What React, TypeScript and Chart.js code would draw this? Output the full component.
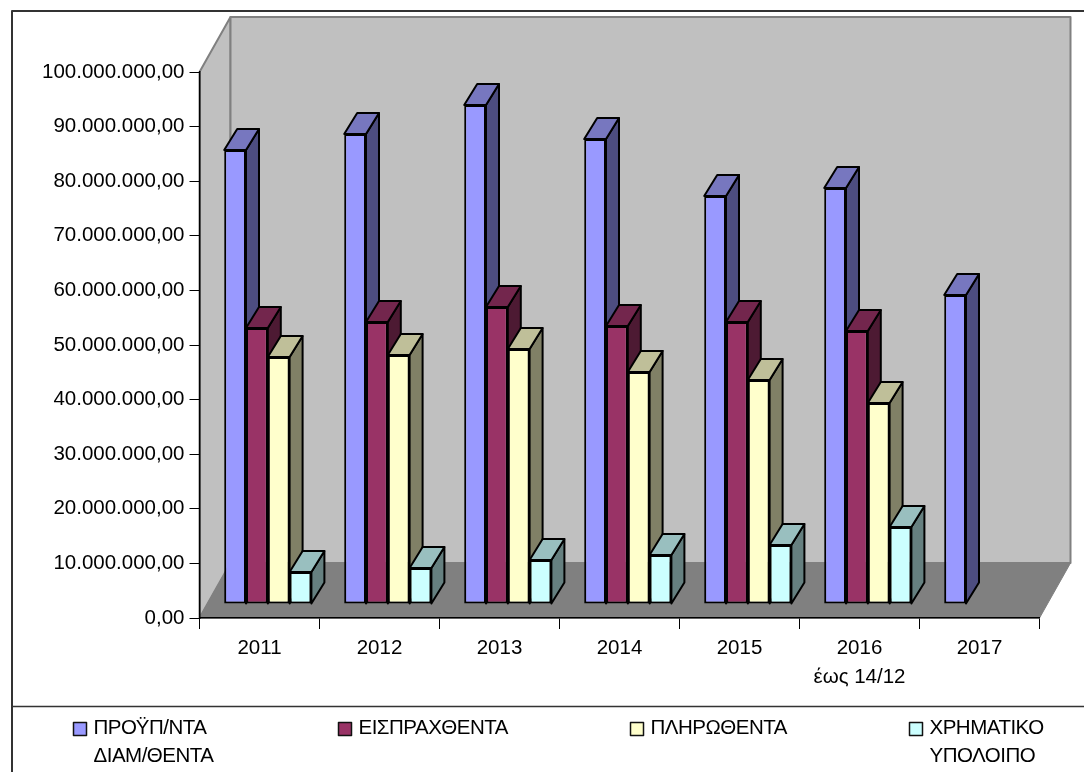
import React, { useEffect, useRef } from "react";
import { Chart, registerables } from "chart.js";

Chart.register(...registerables);

const categories = ["2011", "2012", "2013", "2014", "2015", ["2016", "έως 14/12"], "2017"];
const budgeted = [83150000, 86080000, 91390000, 85160000, 74730000, 76190000, 56590000];
const collected = [50550000, 51650000, 54400000, 50920000, 51650000, 50000000, null];
const paid = [45240000, 45600000, 46700000, 42500000, 41030000, 36800000, null];
const balance = [5860000, 6590000, 8060000, 8970000, 10800000, 14100000, null];
const seriesNames = [["ΠΡΟΫΠ/ΝΤΑ", "ΔΙΑΜ/ΘΕΝΤΑ"], ["ΕΙΣΠΡΑΧΘΕΝΤΑ"], ["ΠΛΗΡΩΘΕΝΤΑ"], ["ΧΡΗΜΑΤΙΚΟ", "ΥΠΟΛΟΙΠΟ"]];
const seriesColors = ["#9999FF", "#993366", "#FFFFCC", "#CCFFFF"];
const topColors = ["#7777BF", "#73264D", "#BFBF99", "#99BFBF"];
const sideColors = ["#4D4D80", "#4D1A33", "#808066", "#668080"];
const legendX = [73, 338, 630, 909];

const FONT = "Liberation Sans, Arial, sans-serif";
const wallDx = 31;
const wallDy = -55;
const barShiftX = 8.3;
const barShiftY = -14;
const barDx = 13;
const barDy = -21;

function poly(ctx: CanvasRenderingContext2D, pts: number[][], fill: string, stroke: string, lw: number) {
  ctx.beginPath();
  pts.forEach((p, i) => (i ? ctx.lineTo(p[0], p[1]) : ctx.moveTo(p[0], p[1])));
  ctx.closePath();
  ctx.fillStyle = fill;
  ctx.fill();
  ctx.strokeStyle = stroke;
  ctx.lineWidth = lw;
  ctx.lineJoin = "round";
  ctx.stroke();
}

const scenePlugin = {
  id: "scene3d",
  beforeDraw(chart: any) {
    const { ctx, chartArea: a, width, height } = chart;
    ctx.save();
    ctx.fillStyle = "#fff";
    ctx.fillRect(0, 0, width, height);
    const bx = a.left + wallDx;
    const brx = a.right + wallDx;
    const by = a.top + wallDy;
    const bb = a.bottom + wallDy;
    poly(ctx, [[a.left, a.bottom], [a.left, a.top], [bx, by], [bx, bb]], "#C0C0C0", "#808080", 2);
    poly(ctx, [[bx, by], [brx, by], [brx, bb], [bx, bb]], "#C0C0C0", "#808080", 2);
    poly(ctx, [[a.left, a.bottom], [a.right, a.bottom], [brx, bb], [bx, bb]], "#808080", "#808080", 1);

    // chart frame and legend separator
    ctx.strokeStyle = "#333";
    ctx.lineWidth = 2;
    ctx.beginPath();
    ctx.moveTo(12, height);
    ctx.lineTo(12, 11);
    ctx.lineTo(width, 11);
    ctx.stroke();
    ctx.lineWidth = 1.5;
    ctx.beginPath();
    ctx.moveTo(12, 706.5);
    ctx.lineTo(width, 706.5);
    ctx.stroke();

    // legend
    ctx.font = `20.5px ${FONT}`;
    ctx.textBaseline = "middle";
    ctx.textAlign = "left";
    (ctx as any).letterSpacing = "-0.5px";
    seriesNames.forEach((lines, i) => {
      ctx.fillStyle = seriesColors[i];
      ctx.fillRect(legendX[i] + 0.5, 722.5, 13, 13);
      ctx.strokeStyle = "#111";
      ctx.lineWidth = 1.5;
      ctx.strokeRect(legendX[i] + 0.5, 722.5, 13, 13);
      ctx.fillStyle = "#000";
      lines.forEach((t, j) => ctx.fillText(t, legendX[i] + 20.5, 728.5 + j * 28));
    });
    ctx.restore();
  },
  beforeDatasetsDraw(chart: any) {
    const { ctx } = chart;
    chart.data.datasets.forEach((ds: any, i: number) => {
      const meta = chart.getDatasetMeta(i);
      ctx.save();
      ctx.translate(barShiftX, barShiftY);
      meta.data.forEach((bar: any, k: number) => {
        if (ds.data[k] == null) return;
        const p = bar.getProps(["x", "y", "base", "width"], true);
        const l = p.x - p.width / 2;
        const r = p.x + p.width / 2;
        poly(ctx, [[r, p.base], [r, p.y], [r + barDx, p.y + barDy], [r + barDx, p.base + barDy]], sideColors[i], "#000", 2);
        poly(ctx, [[l, p.y], [r, p.y], [r + barDx, p.y + barDy], [l + barDx, p.y + barDy]], topColors[i], "#000", 2);
      });
      meta.controller.draw();
      ctx.restore();
    });
    return false;
  },
};

const seriesValues = [budgeted, collected, paid, balance];

export default function App() {
  const ref = useRef<HTMLCanvasElement | null>(null);
  useEffect(() => {
    document.body.style.margin = "0";
    const chart = new Chart(ref.current as HTMLCanvasElement, {
      type: "bar",
      data: {
        labels: categories as any,
        datasets: seriesValues.map((values, i) => ({
          label: seriesNames[i].join(" "),
          data: values,
          backgroundColor: seriesColors[i],
          borderColor: "#000",
          borderWidth: 2,
          borderSkipped: false,
          categoryPercentage: 0.7267,
          barPercentage: 1,
        })),
      },
      options: {
        responsive: false,
        animation: false,
        devicePixelRatio: 1,
        layout: { padding: { top: 72, right: 44.5, left: 0, bottom: 0 } },
        plugins: { legend: { display: false }, title: { display: false }, tooltip: { enabled: false } },
        scales: {
          x: {
            afterFit: (s: any) => { s.height = 154; },
            grid: { drawOnChartArea: false, tickLength: 11, tickColor: "#000", offset: true, lineWidth: 1 },
            border: { color: "#000", width: 1.5 },
            ticks: { color: "#000", padding: 4, maxRotation: 0, autoSkip: false, font: { family: FONT, size: 20.5, lineHeight: 1.45 } },
          },
          y: {
            min: 0,
            max: 100000000,
            afterFit: (s: any) => { s.width = 199.5; },
            grid: { drawOnChartArea: false, tickLength: 10, tickColor: "#000", lineWidth: 1 },
            border: { color: "#000", width: 1.5 },
            ticks: {
              stepSize: 10000000,
              color: "#000",
              padding: 5,
              font: { family: FONT, size: 20.5 },
              callback: (v: any) =>
                Number(v).toLocaleString("de-DE", { minimumFractionDigits: 2, maximumFractionDigits: 2 }),
            },
          },
        },
      },
      plugins: [scenePlugin as any],
    });
    return () => chart.destroy();
  }, []);
  return <canvas ref={ref} width={1084} height={772} style={{ display: "block" }} />;
}
